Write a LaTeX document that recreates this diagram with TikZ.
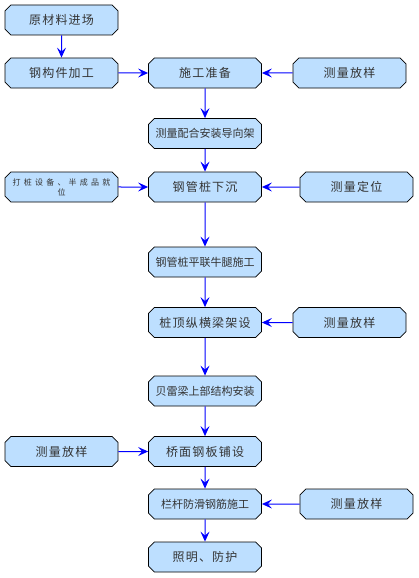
\documentclass[tikz,border=0pt]{standalone}
\usepackage{fontspec}
\usetikzlibrary{arrows.meta,shapes.misc}
\newfontfamily\cjkA[LetterSpace=10]{Noto Sans CJK SC}
\newfontfamily\cjkB{Noto Sans CJK SC}
\newfontfamily\cjkC[LetterSpace=40]{Noto Sans CJK SC}
\definecolor{boxfill}{RGB}{189,223,255}
\definecolor{arrblue}{RGB}{0,0,255}
\tikzset{
  box/.style={chamfered rectangle, chamfered rectangle xsep=3pt, draw=black, line width=0.8pt,
    fill=boxfill, minimum width=113pt, minimum height=30pt, inner sep=0pt, text=black!80,
    font=\cjkA\fontsize{12}{14}\selectfont},
  mid/.style={font=\cjkB\fontsize{11}{13}\selectfont},
  small/.style={font=\cjkC\fontsize{8}{10}\selectfont, align=center},
  arr/.style={color=arrblue, line width=1pt, -{Stealth[length=10pt,width=9pt,inset=4pt]}}
}
\begin{document}
\begin{tikzpicture}[x=1pt,y=-1pt]
\useasboundingbox (0,0) rectangle (419,578);
\node[box] (a1) at (61.5,20) {原材料进场};
\node[box] (a2) at (61.5,73) {钢构件加工};
\node[box] (b1) at (205,73) {施工准备};
\node[box] (c1) at (349.5,73) {测量放样};
\node[box,mid] (b2) at (205,133.5) {测量配合安装导向架};
\node[box,small] (a3) at (61.5,187) {打桩设备、半成品就\\位};
\node[box] (b3) at (205,187) {钢管桩下沉};
\node[box] (c2) at (356.5,187) {测量定位};
\node[box,mid] (b4) at (205,262) {钢管桩平联牛腿施工};
\node[box] (b5) at (205,322.5) {桩顶纵横梁架设};
\node[box] (c3) at (349.5,322.5) {测量放样};
\node[box,mid] (b6) at (205,391) {贝雷梁上部结构安装};
\node[box] (a4) at (61.5,451.5) {测量放样};
\node[box] (b7) at (205,451.5) {桥面钢板铺设};
\node[box,mid] (b8) at (205,504) {栏杆防滑钢筋施工};
\node[box] (c4) at (356.5,504) {测量放样};
\node[box] (b9) at (205,557) {照明、防护};
\draw[arr] (a1) -- (a2);
\draw[arr] (a2) -- (b1);
\draw[arr] (c1) -- (b1);
\draw[arr] (b1) -- (b2);
\draw[arr] (b2) -- (b3);
\draw[arr] (a3) -- (b3);
\draw[arr] (c2) -- (b3);
\draw[arr] (b3) -- (b4);
\draw[arr] (b4) -- (b5);
\draw[arr] (c3) -- (b5);
\draw[arr] (b5) -- (b6);
\draw[arr] (b6) -- (b7);
\draw[arr] (a4) -- (b7);
\draw[arr] (b7) -- (b8);
\draw[arr] (c4) -- (b8);
\draw[arr] (b8) -- (b9);
\end{tikzpicture}
\end{document}
